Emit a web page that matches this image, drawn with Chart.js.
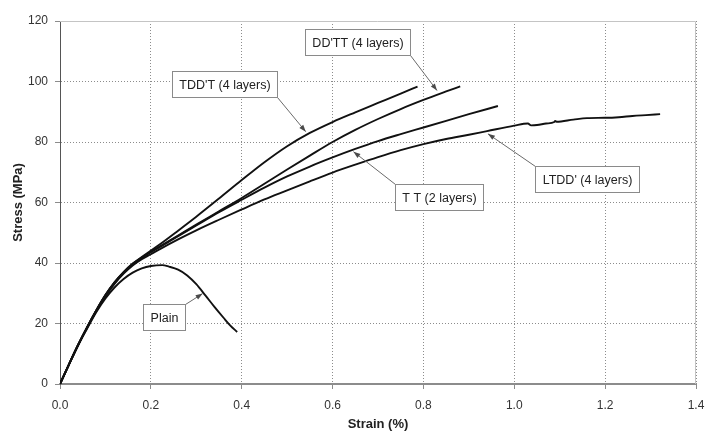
<!DOCTYPE html>
<html>
<head>
<meta charset="utf-8">
<script src="https://cdn.jsdelivr.net/npm/chart.js@4.4.1/dist/chart.umd.min.js"></script>
<style>
  html, body { margin: 0; padding: 0; background: #fff; }
  canvas { display: block; }
</style>
</head>
<body>
<canvas id="stressChart" width="705" height="431"></canvas>
<script>
// Strain (%) / Stress (MPa)
const tddtStrain = [0, 0.02, 0.04, 0.06, 0.08, 0.10, 0.12, 0.14, 0.16, 0.18, 0.20, 0.22, 0.26, 0.30, 0.35, 0.40, 0.45, 0.50, 0.55, 0.60, 0.65, 0.70, 0.75, 0.787];
const tddtStress = [0, 6.6, 13.0, 18.9, 24.4, 29.4, 33.6, 37.0, 39.8, 42.0, 44.1, 46.2, 50.7, 55.3, 61.3, 67.4, 73.3, 78.6, 83.0, 86.6, 89.8, 92.9, 96.0, 98.3];

const ddttStrain = [0, 0.02, 0.04, 0.06, 0.08, 0.10, 0.12, 0.14, 0.16, 0.18, 0.20, 0.22, 0.26, 0.30, 0.35, 0.40, 0.45, 0.50, 0.55, 0.60, 0.65, 0.70, 0.75, 0.80, 0.85, 0.881];
const ddttStress = [0, 6.6, 13.0, 18.9, 24.4, 29.4, 33.6, 37.0, 39.7, 41.8, 43.7, 45.5, 49.1, 52.7, 57.1, 61.5, 66.2, 70.9, 75.5, 80.0, 84.0, 87.6, 90.9, 93.9, 96.7, 98.4];

const ttStrain = [0, 0.02, 0.04, 0.06, 0.08, 0.10, 0.12, 0.14, 0.16, 0.18, 0.20, 0.22, 0.26, 0.30, 0.35, 0.40, 0.45, 0.50, 0.55, 0.60, 0.65, 0.70, 0.75, 0.80, 0.85, 0.90, 0.964];
const ttStress = [0, 6.6, 12.9, 18.8, 24.3, 29.3, 33.4, 36.8, 39.5, 41.7, 43.6, 45.3, 48.9, 52.4, 56.8, 60.9, 64.9, 68.6, 71.9, 74.9, 77.7, 80.3, 82.6, 84.8, 87.0, 89.2, 91.9];

const ltddStrain = [0, 0.02, 0.04, 0.06, 0.08, 0.10, 0.12, 0.14, 0.16, 0.18, 0.20, 0.22, 0.26, 0.30, 0.35, 0.40, 0.45, 0.50, 0.55, 0.60, 0.65, 0.70, 0.75, 0.80, 0.85, 0.90, 0.94, 1.00, 1.03, 1.037, 1.05, 1.07, 1.088, 1.09, 1.093, 1.13, 1.16, 1.20, 1.23, 1.26, 1.29, 1.321];
const ltddStress = [0, 6.5, 12.9, 18.7, 24.1, 29.0, 33.1, 36.5, 39.2, 41.3, 42.9, 44.6, 47.8, 50.8, 54.3, 57.7, 61.0, 64.0, 67.0, 69.9, 72.5, 75.0, 77.3, 79.3, 81.0, 82.4, 83.6, 85.4, 86.1, 85.5, 85.6, 86.1, 86.6, 87.0, 86.7, 87.4, 87.9, 88.0, 88.2, 88.6, 88.9, 89.2];

const plainStrain = [0, 0.02, 0.04, 0.06, 0.08, 0.10, 0.12, 0.14, 0.16, 0.18, 0.20, 0.225, 0.24, 0.26, 0.28, 0.30, 0.32, 0.34, 0.36, 0.375, 0.39];
const plainStress = [0, 6.5, 12.8, 18.4, 23.8, 28.3, 31.9, 34.7, 36.8, 38.2, 39.0, 39.3, 38.8, 37.8, 35.9, 33.0, 29.3, 25.5, 21.9, 19.3, 17.2];

const xTicks = [0, 0.2, 0.4, 0.6, 0.8, 1.0, 1.2, 1.4];
const yTicks = [0, 20, 40, 60, 80, 100, 120];

// callout boxes: box centre and arrow tip in data units
const notes = [
  { text: "DD'TT (4 layers)", at: [0.655, 113.1], from: 'br', tip: [0.830, 97.0] },
  { text: "TDD'T (4 layers)", at: [0.363, 99.3], from: 'br', tip: [0.541, 83.4] },
  { text: "T T (2 layers)", at: [0.835, 61.9], from: 'tl', tip: [0.646, 76.8] },
  { text: "LTDD' (4 layers)", at: [1.160, 67.8], from: 'tl', tip: [0.942, 82.7] },
  { text: "Plain", at: [0.2285, 22.1], from: 'tr', tip: [0.314, 29.9] }
];

function pts(xs, ys) {
  return xs.map((x, i) => ({ x: x, y: ys[i] }));
}

function curve(label, xs, ys) {
  return {
    label: label,
    data: pts(xs, ys),
    showLine: true,
    borderColor: '#111',
    borderWidth: 1.9,
    pointRadius: 0,
    cubicInterpolationMode: 'monotone',
    fill: false
  };
}

// light frame on top/right + the callouts with arrows
const calloutPlugin = {
  id: 'callouts',
  beforeDatasetsDraw(chart) {
    const { ctx, chartArea: a } = chart;
    ctx.save();
    ctx.strokeStyle = '#c4c4c4';
    ctx.lineWidth = 1;
    ctx.beginPath();
    ctx.moveTo(a.left, a.top + 0.5);
    ctx.lineTo(a.right - 0.5, a.top + 0.5);
    ctx.lineTo(a.right - 0.5, a.bottom);
    ctx.stroke();
    ctx.restore();
  },
  afterDatasetsDraw(chart) {
    const { ctx } = chart;
    const sx = chart.scales.x, sy = chart.scales.y;
    ctx.save();
    ctx.font = '12.5px "Liberation Sans", Arial, sans-serif';
    notes.forEach(n => {
      const cx = sx.getPixelForValue(n.at[0]);
      const cy = sy.getPixelForValue(n.at[1]);
      const w = Math.round(ctx.measureText(n.text).width + 14);
      const h = 26;
      const left = Math.round(cx - w / 2) + 0.5;
      const top = Math.round(cy - h / 2) + 0.5;
      let ax = left, ay = top;
      if (n.from[1] === 'r') ax = left + w;
      if (n.from[0] === 'b') ay = top + h;
      const tx = sx.getPixelForValue(n.tip[0]);
      const ty = sy.getPixelForValue(n.tip[1]);

      // arrow
      ctx.strokeStyle = '#6a6a6a';
      ctx.fillStyle = '#4a4a4a';
      ctx.lineWidth = 1;
      ctx.beginPath();
      ctx.moveTo(ax, ay);
      ctx.lineTo(tx, ty);
      ctx.stroke();
      const ang = Math.atan2(ty - ay, tx - ax);
      ctx.beginPath();
      ctx.moveTo(tx, ty);
      ctx.lineTo(tx - 7 * Math.cos(ang) + 2.5 * Math.sin(ang), ty - 7 * Math.sin(ang) - 2.5 * Math.cos(ang));
      ctx.lineTo(tx - 7 * Math.cos(ang) - 2.5 * Math.sin(ang), ty - 7 * Math.sin(ang) + 2.5 * Math.cos(ang));
      ctx.closePath();
      ctx.fill();

      // box
      ctx.fillStyle = '#fff';
      ctx.fillRect(left, top, w, h);
      ctx.strokeStyle = '#8a8a8a';
      ctx.strokeRect(left, top, w, h);
      ctx.fillStyle = '#222';
      ctx.textAlign = 'center';
      ctx.textBaseline = 'middle';
      ctx.fillText(n.text, left + w / 2, top + h / 2 + 1);
    });
    ctx.restore();
  }
};

new Chart(document.getElementById('stressChart'), {
  type: 'scatter',
  data: {
    datasets: [
      curve("TDD'T (4 layers)", tddtStrain, tddtStress),
      curve("DD'TT (4 layers)", ddttStrain, ddttStress),
      curve("T T (2 layers)", ttStrain, ttStress),
      curve("LTDD' (4 layers)", ltddStrain, ltddStress),
      curve('Plain', plainStrain, plainStress)
    ]
  },
  options: {
    responsive: false,
    animation: false,
    layout: { padding: { top: 21, right: 9, left: 0, bottom: 0 } },
    plugins: {
      legend: { display: false },
      tooltip: { enabled: false }
    },
    scales: {
      x: {
        type: 'linear',
        min: 0,
        max: 1.4,
        afterFit: s => { s.height = 47; s.paddingLeft = 0; s.paddingRight = 0; },
        afterBuildTicks: s => { s.ticks = xTicks.map(v => ({ value: v })); },
        ticks: {
          padding: 9,
          color: '#333',
          font: { family: '"Liberation Sans", Arial, sans-serif', size: 12 },
          callback: v => Number(v).toFixed(1)
        },
        grid: { color: '#8c8c8c', tickColor: '#8c8c8c', tickLength: 5 },
        border: { color: '#8c8c8c', width: 2, dash: [1, 2] },
        title: {
          display: true,
          text: 'Strain (%)',
          color: '#222',
          font: { family: '"Liberation Sans", Arial, sans-serif', size: 13, weight: 'bold', lineHeight: 1 },
          padding: { top: 0, bottom: 0 }
        }
      },
      y: {
        type: 'linear',
        min: 0,
        max: 120,
        afterFit: s => { s.width = 60; s.paddingTop = 0; s.paddingBottom = 0; },
        afterBuildTicks: s => { s.ticks = yTicks.map(v => ({ value: v })); },
        ticks: {
          padding: 7,
          color: '#333',
          font: { family: '"Liberation Sans", Arial, sans-serif', size: 12 }
        },
        grid: { color: '#8c8c8c', tickColor: '#8c8c8c', tickLength: 5 },
        border: { color: '#555', width: 1, dash: [1, 2] },
        title: {
          display: true,
          text: 'Stress (MPa)',
          color: '#222',
          font: { family: '"Liberation Sans", Arial, sans-serif', size: 13, weight: 'bold', lineHeight: 1.2 },
          padding: { top: 11, bottom: 0 }
        }
      }
    }
  },
  plugins: [calloutPlugin]
});
</script>
</body>
</html>
